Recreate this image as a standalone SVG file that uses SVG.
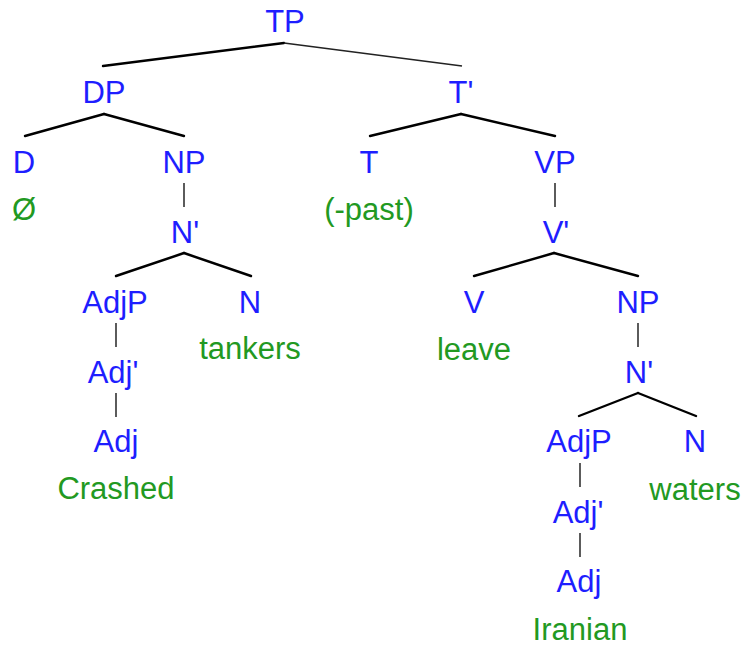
<svg xmlns="http://www.w3.org/2000/svg" width="744" height="646" viewBox="0 0 744 646">
<style>
  text { font-family: "Liberation Sans", Arial, sans-serif; font-size: 31px; text-anchor: middle; }
  .cat { fill: #1e1eff; }
  .word { fill: #229922; }
  .e { stroke: #000; stroke-width: 2.4; fill: none; stroke-linecap: round; }
  .thin { stroke: #222; stroke-width: 1.5; fill: none; }
  .v { stroke: #333; stroke-width: 1.6; fill: none; }
</style>
<rect width="744" height="646" fill="#fff"/>
<g id="connectors">
  <line class="e" x1="284" y1="43" x2="103" y2="66"/>
  <line class="thin" x1="284" y1="43" x2="462" y2="66"/>
  <line class="e" x1="104" y1="114" x2="25" y2="136"/>
  <line class="e" x1="104" y1="114" x2="184" y2="136"/>
  <line class="e" x1="461" y1="114" x2="370" y2="136"/>
  <line class="e" x1="461" y1="114" x2="555" y2="136"/>
  <line class="v" x1="184" y1="183" x2="184" y2="207"/>
  <line class="v" x1="555" y1="183" x2="555" y2="207"/>
  <line class="e" x1="184" y1="253" x2="116" y2="276"/>
  <line class="e" x1="184" y1="253" x2="251" y2="276"/>
  <line class="e" x1="554" y1="253" x2="474" y2="276"/>
  <line class="e" x1="554" y1="253" x2="638" y2="276"/>
  <line class="v" x1="116" y1="323" x2="116" y2="347"/>
  <line class="v" x1="116" y1="393" x2="116" y2="417"/>
  <line class="v" x1="638" y1="323" x2="638" y2="347"/>
  <line class="e" x1="638" y1="393" x2="579" y2="416"/>
  <line class="e" x1="638" y1="393" x2="696" y2="416"/>
  <line class="v" x1="580" y1="463" x2="580" y2="487"/>
  <line class="v" x1="580" y1="533" x2="580" y2="557"/>
</g>
<g id="TP"><text class="cat" x="285" y="32">TP</text></g>
<g id="DP"><text class="cat" x="104" y="103">DP</text></g>
<g id="Tbar"><text class="cat" x="461" y="103">T'</text></g>
<g id="D"><text class="cat" x="24" y="173">D</text><text class="word" x="24" y="220">Ø</text></g>
<g id="NP1"><text class="cat" x="184" y="173">NP</text></g>
<g id="T"><text class="cat" x="369" y="173">T</text><text class="word" x="369" y="220">(-past)</text></g>
<g id="VP"><text class="cat" x="555" y="173">VP</text></g>
<g id="Nbar1"><text class="cat" x="185" y="243">N'</text></g>
<g id="Vbar"><text class="cat" x="556" y="243">V'</text></g>
<g id="AdjP1"><text class="cat" x="115" y="313">AdjP</text></g>
<g id="N1"><text class="cat" x="250" y="313">N</text><text class="word" x="250" y="359">tankers</text></g>
<g id="V"><text class="cat" x="474" y="313">V</text><text class="word" x="474" y="360">leave</text></g>
<g id="NP2"><text class="cat" x="638" y="313">NP</text></g>
<g id="Adjbar1"><text class="cat" x="113" y="383">Adj'</text></g>
<g id="Nbar2"><text class="cat" x="639" y="383">N'</text></g>
<g id="Adj1"><text class="cat" x="116" y="452">Adj</text><text class="word" x="116" y="499">Crashed</text></g>
<g id="AdjP2"><text class="cat" x="579" y="452">AdjP</text></g>
<g id="N2"><text class="cat" x="695" y="452">N</text><text class="word" x="695" y="500">waters</text></g>
<g id="Adjbar2"><text class="cat" x="578" y="523">Adj'</text></g>
<g id="Adj2"><text class="cat" x="579" y="592">Adj</text><text class="word" x="580" y="640">Iranian</text></g>
</svg>
